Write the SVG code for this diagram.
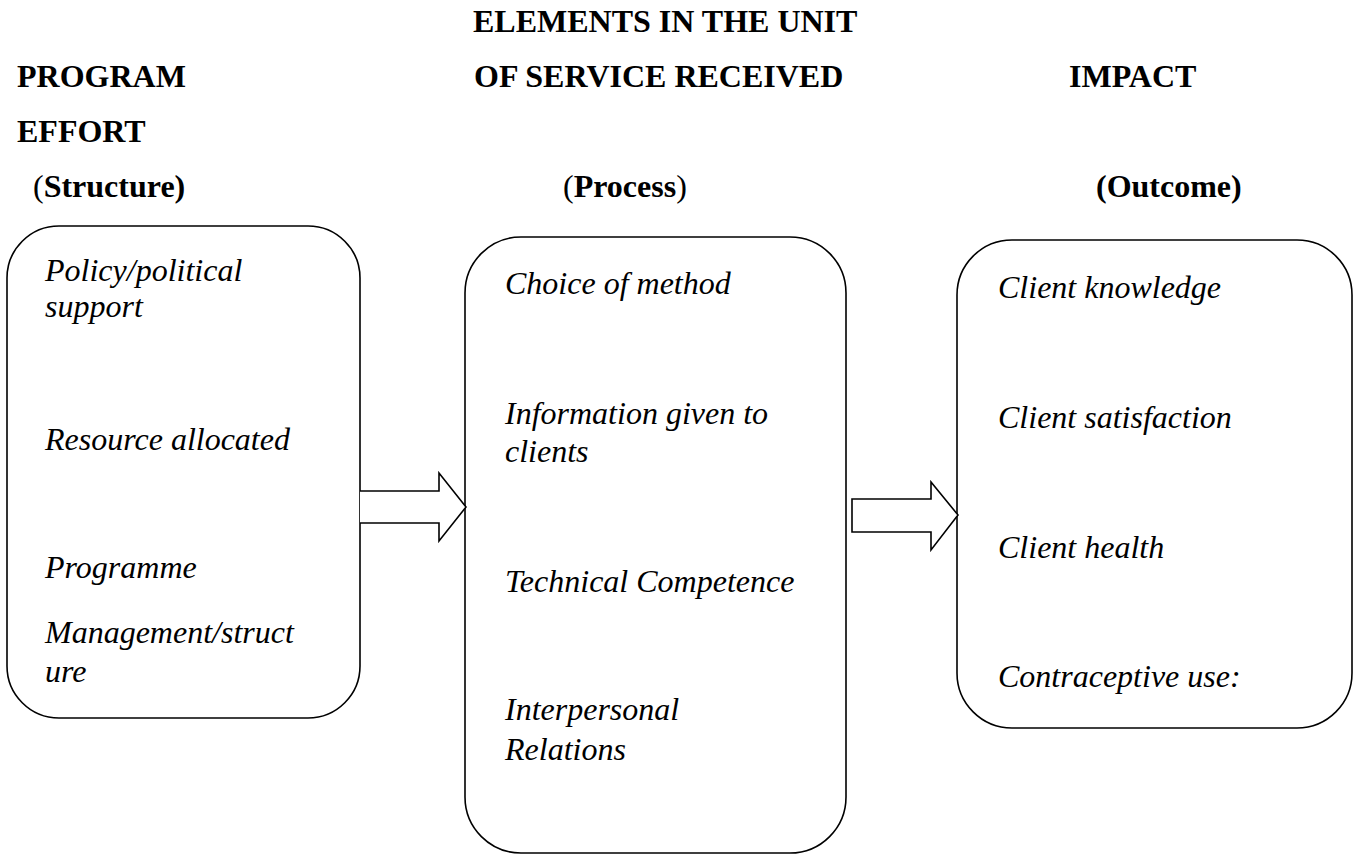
<svg xmlns="http://www.w3.org/2000/svg" width="1354" height="857" viewBox="0 0 1354 857">
<style>
.h{font-family:"Liberation Serif","Times New Roman",serif;font-size:32px;font-weight:bold;fill:#000}
.n{font-weight:normal}
.t{font-family:"Liberation Serif","Times New Roman",serif;font-size:32px;font-style:italic;fill:#000}
.box{fill:#fff;stroke:#000;stroke-width:1.6}
.arr{fill:#fff;stroke:#000;stroke-width:1.6;stroke-linejoin:miter}
</style>
<rect width="1354" height="857" fill="#fff"/>
<g id="headings">
<text class="h" x="473" y="32">ELEMENTS IN THE UNIT</text>
<text class="h" x="17" y="87">PROGRAM</text>
<text class="h" x="474" y="87">OF SERVICE RECEIVED</text>
<text class="h" x="1069" y="87">IMPACT</text>
<text class="h" x="17" y="142">EFFORT</text>
<text class="h" x="33" y="197"><tspan class="n">(</tspan>Structure)</text>
<text class="h" x="563" y="197"><tspan class="n">(</tspan>Process<tspan class="n">)</tspan></text>
<text class="h" x="1096" y="197">(Outcome)</text>
</g>
<g id="structure">
<rect class="box" x="7" y="226" width="353" height="492" rx="52" ry="52"/>
<text class="t" x="45" y="281">Policy/political</text>
<text class="t" x="45" y="317">support</text>
<text class="t" x="45" y="450">Resource allocated</text>
<text class="t" x="45" y="578">Programme</text>
<text class="t" x="45" y="643">Management/struct</text>
<text class="t" x="45" y="682">ure</text>
</g>
<g id="process">
<rect class="box" x="465" y="237" width="381" height="616" rx="56" ry="56"/>
<text class="t" x="505" y="294">Choice of method</text>
<text class="t" x="505" y="424">Information given to</text>
<text class="t" x="505" y="462">clients</text>
<text class="t" x="505" y="592">Technical Competence</text>
<text class="t" x="505" y="720">Interpersonal</text>
<text class="t" x="505" y="760">Relations</text>
</g>
<g id="outcome">
<rect class="box" x="957" y="240" width="395" height="488" rx="55" ry="55"/>
<text class="t" x="998" y="298">Client knowledge</text>
<text class="t" x="998" y="428">Client satisfaction</text>
<text class="t" x="998" y="558">Client health</text>
<text class="t" x="998" y="687">Contraceptive use:</text>
</g>
<g id="connectors">
<path class="arr" d="M360,491 L439,491 L439,473 L466,507 L439,541 L439,523 L360,523"/>
<path class="arr" d="M852,499 L931,499 L931,482 L958,515 L931,550 L931,532 L852,532 Z"/>
</g>
</svg>
